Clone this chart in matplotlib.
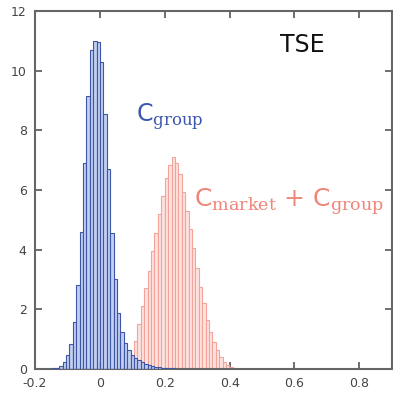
import numpy as np
import matplotlib
matplotlib.use("Agg")
import matplotlib.pyplot as plt

plt.rcParams['mathtext.fontset'] = 'custom'
plt.rcParams['mathtext.rm'] = 'DejaVu Serif'

# bin width and first bin centre
bin_w = 0.0105
group_start = -0.1414
market_start = group_start + 21 * bin_w

# C_group histogram (density)
group_h = [0.03, 0.03, 0.1, 0.23, 0.47, 0.83, 1.58, 2.8, 4.6, 6.9, 9.16, 10.7,
           11.0, 10.95, 10.3, 8.55, 6.7, 4.55, 3.0, 1.88,
           1.25, 0.87, 0.64, 0.47, 0.37, 0.3, 0.23, 0.18, 0.13, 0.1, 0.07,
           0.05, 0.04, 0.03, 0.02, 0.02, 0.01]
# C_market + C_group histogram (density)
market_h = [0.05, 0.15, 0.4, 0.95, 1.5, 2.1, 2.7, 3.3, 3.95, 4.55, 5.2, 5.8,
            6.4, 6.85, 7.1, 6.9, 6.55, 5.95, 5.3, 4.7, 4.05, 3.4, 2.75, 2.2,
            1.65, 1.25, 0.9, 0.62, 0.4, 0.23, 0.13, 0.07, 0.03]

xticks = [-0.2, 0, 0.2, 0.4, 0.6, 0.8]
xlabels = ['-0.2', '0', '0.2', '0.4', '0.6', '0.8']
yticks = [0, 2, 4, 6, 8, 10, 12]

group_x = group_start + bin_w * np.arange(len(group_h))
market_x = market_start + bin_w * np.arange(len(market_h))

fig = plt.figure(figsize=(3.93, 3.98), dpi=100)
ax = fig.add_axes([0.089, 0.073, 0.908, 0.899])

ax.bar(market_x, market_h, width=bin_w, color='#fde3df',
       edgecolor='#f3a39a', linewidth=0.8, zorder=2)
ax.bar(group_x, group_h, width=bin_w, color=(0.72, 0.78, 0.94, 0.85),
       edgecolor='#3d56a6', linewidth=0.8, zorder=3)

ax.set_xlim(-0.2, 0.9)
ax.set_ylim(0, 12)
ax.set_xticks(xticks)
ax.set_xticklabels(xlabels)
ax.set_yticks(yticks)
ax.tick_params(direction='in', length=5, width=1.2, color='#555555',
               labelcolor='#444444', labelsize=9, top=True, right=True)
ax.tick_params(axis='x', pad=6)
ax.tick_params(axis='y', pad=6)
for s in ax.spines.values():
    s.set_color('#666666')
    s.set_linewidth(1.5)

ax.text(0.625, 10.85, 'TSE', fontsize=17, color='#111111', ha='center', va='center')
ax.text(0.11, 8.45, r'C$_{\mathrm{group}}$', fontsize=17, color='#3a55ad',
        va='center')
ax.text(0.29, 5.6, r'C$_{\mathrm{market}}$ + C$_{\mathrm{group}}$', fontsize=18,
        color='#f0857a', va='center')

fig.savefig('out.png', dpi=100)
